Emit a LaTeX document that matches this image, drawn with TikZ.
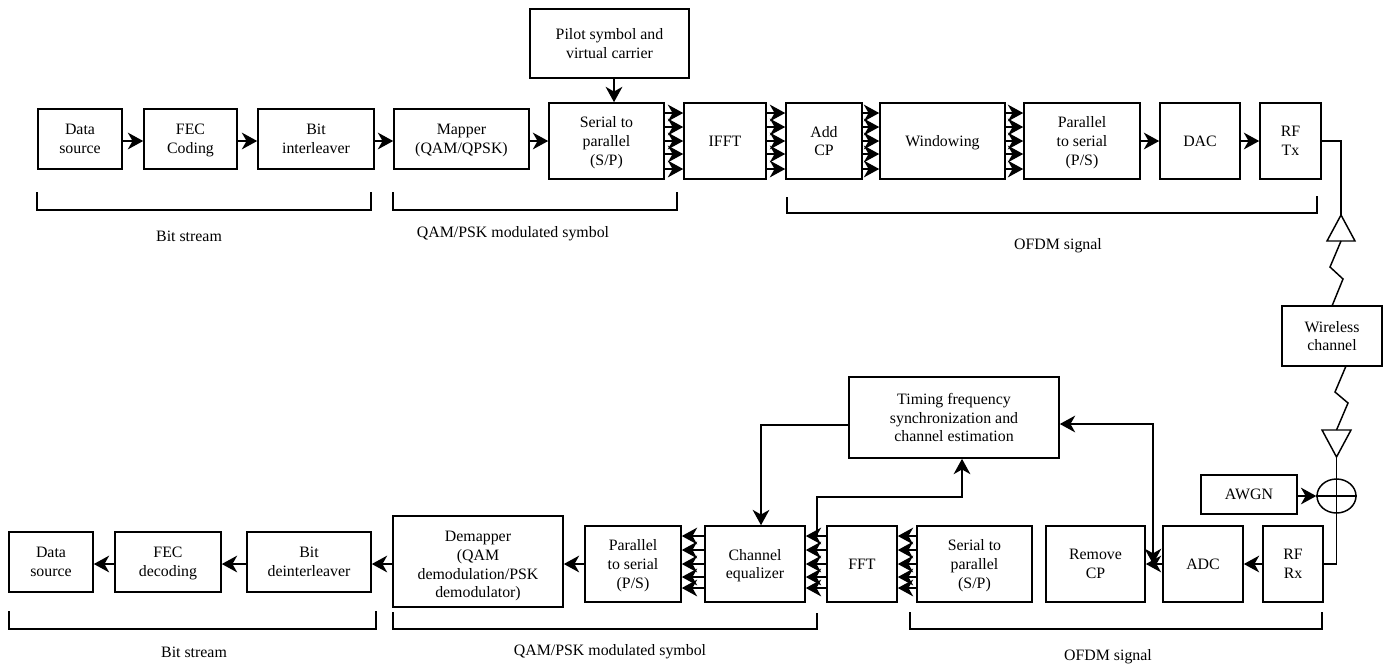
\documentclass[tikz,border=0pt]{standalone}
\usepackage{fontspec}
\setmainfont{Liberation Serif}
\usetikzlibrary{arrows.meta,shapes.geometric}

\begin{document}
\begin{tikzpicture}[x=0.75pt,y=-0.75pt,
    textfont/.style={font=\fontsize{11.9}{14.1}\selectfont},
    block/.style={draw,line width=1.2pt,inner sep=0pt,align=center,textfont,text depth=0pt},
    sz/.style 2 args={minimum width=#1*0.75pt,minimum height=#2*0.75pt},
    flow/.style={line width=1.5pt,-{Stealth[length=11.5pt,width=12.5pt,inset=3.5pt]}},
    wire/.style={line width=1.1pt},
    bracket/.style={line width=1pt},
    caption/.style={textfont,inner sep=0pt}]
  \useasboundingbox (0,0) rectangle (1391,665);

  \node (dsrc) at (80,139) [block,sz={84}{60}] {Data\\source};
  \node (fec) at (190.5,139) [block,sz={93}{60}] {FEC\\Coding};
  \node (intl) at (316,139) [block,sz={116}{60}] {Bit\\interleaver};
  \node (mapper) at (461.5,139) [block,sz={135}{60}] {Mapper\\(QAM/QPSK)};
  \node (sptx) at (606.5,141) [block,sz={115}{76}] {Serial to\\parallel\\(S/P)};
  \node (pilot) at (609.5,43.5) [block,sz={159}{69}] {Pilot symbol and\\virtual carrier};
  \node (ifft) at (725,141) [block,sz={82}{76}] {IFFT};
  \node (addcp) at (824,141) [block,sz={76}{76}] {Add\\CP};
  \node (wind) at (942.5,141) [block,sz={125}{76}] {Windowing};
  \node (pstx) at (1082,141) [block,sz={116}{76}] {Parallel\\to serial\\(P/S)};
  \node (dac) at (1200,141) [block,sz={80}{76}] {DAC};
  \node (rftx) at (1290.5,141) [block,sz={61}{76}] {RF\\Tx};

  \node (wless) at (1332,336) [block,sz={100}{60}] {Wireless\\channel};
  \node (awgn) at (1249,494.5) [block,sz={96}{39}] {AWGN};
  \node (sum) at (1336.5,496) [draw,wire,ellipse,inner sep=0pt,minimum width=39*0.75pt,minimum height=34*0.75pt] {};

  \node (timing) at (954,417.5) [block,sz={210}{81}] {Timing frequency\\synchronization and\\channel estimation};
  \node (rfrx) at (1293,564) [block,sz={60}{76}] {RF\\Rx};
  \node (adc) at (1203,564) [block,sz={80}{76}] {ADC};
  \node (rmcp) at (1095.5,564) [block,sz={99}{76}] {Remove\\CP};
  \node (sprx) at (974.5,564) [block,sz={115}{76}] {Serial to\\parallel\\(S/P)};
  \node (fft) at (862,564) [block,sz={70}{76}] {FFT};
  \node (equal) at (755,564) [block,sz={100}{76}] {Channel\\equalizer};
  \node (psrx) at (633,564) [block,sz={96}{76}] {Parallel\\to serial\\(P/S)};
  \node (demap) at (478,561.5) [block,sz={170}{91}] {\rule{0pt}{12.3pt}Demapper\\(QAM\\demodulation/PSK\\demodulator)};
  \node (dintl) at (309,562) [block,sz={124}{60}] {Bit\\deinterleaver};
  \node (fecd) at (168,562) [block,sz={106}{60}] {FEC\\decoding};
  \node (dsink) at (51,562) [block,sz={84}{60}] {Data\\source};

  \foreach \a/\b in {dsrc/fec,fec/intl,intl/mapper,mapper/sptx,pstx/dac,dac/rftx}
    \draw[flow] (\a.east |- sptx.west) -- (\b.west |- sptx.west);
  \foreach \a/\b in {sptx/ifft,ifft/addcp,addcp/wind,wind/pstx}
    \foreach \dy in {28,14,0,-13,-28}
      \draw[flow] ([yshift=\dy*0.75pt]\a.east) -- ([yshift=\dy*0.75pt]\b.west);
  \coordinate (pilotx) at (614,60);
  \draw[flow] (pilot.south -| pilotx) -- (sptx.north -| pilotx);

  \foreach \a/\b in {rfrx/adc,adc/rmcp,psrx/demap,demap/dintl,dintl/fecd,fecd/dsink}
    \draw[flow] (\a.west |- rfrx.west) -- (\b.east |- rfrx.west);
  \foreach \a/\b in {sprx/fft,fft/equal,equal/psrx}
    \foreach \dy in {28,14,0,-13,-24}
      \draw[flow] ([yshift=\dy*0.75pt]\a.west) -- ([yshift=\dy*0.75pt]\b.east);

  \coordinate (txtip) at (1341,215);
  \coordinate (txleft) at (1327,241);
  \coordinate (txright) at (1355,241);
  \coordinate (txbase) at (1341,241);
  \coordinate (txzz1) at (1330,267);
  \coordinate (txzz2) at (1343,279);
  \coordinate (txend) at (1332,306);
  \draw[wire] (rftx.east) -| (txtip);
  \draw[wire] (txtip) -- (txright) -- (txleft) -- cycle;
  \draw[wire] (txbase) -- (txzz1) -- (txzz2) -- (txend);

  \coordinate (rxstart) at (1346,366);
  \coordinate (rxzz1) at (1335,392);
  \coordinate (rxzz2) at (1348,403);
  \coordinate (rxbase) at (1336.5,430);
  \coordinate (rxleft) at (1322,430);
  \coordinate (rxright) at (1351,430);
  \coordinate (rxtip) at (1336.5,457);
  \draw[wire] (rxstart) -- (rxzz1) -- (rxzz2) -- (rxbase);
  \draw[wire] (rxleft) -- (rxright) -- (rxtip) -- cycle;
  \draw[wire] (rxtip) |- (rfrx.east);
  \draw[wire] (sum.west) -- (sum.east);
  \draw[flow] (awgn.east |- sum.west) -- (sum.west);

  \coordinate (tjoint) at (1153,424);
  \coordinate (tout) at (761,425);
  \coordinate (tapst) at (817,536);
  \coordinate (tapup) at (817,497);
  \coordinate (tapin) at (962,497);
  \draw[line width=1.5pt,{Stealth[length=11.5pt,width=12.5pt,inset=3.5pt]}-{Stealth[length=11.5pt,width=12.5pt,inset=3.5pt]}] (timing.east |- tjoint) -- (tjoint) -- (tjoint |- rmcp.east);
  \draw[flow] (timing.west |- tout) -- (tout) -- (tout |- equal.north);
  \draw[flow] (tapst) -- (tapup) -- (tapin) -- (tapin |- timing.south);

  \draw[bracket] (37,192) |- (371,210) -- (371,192);
  \draw[bracket] (393,192) |- (677,210) -- (677,192);
  \draw[bracket] (787,197) |- (1317,213) -- (1317,196);
  \draw[bracket] (9,611) |- (376,629) -- (376,611);
  \draw[bracket] (393,612) |- (817,629) -- (817,613);
  \draw[bracket] (910,612) |- (1322,629) -- (1322,612);

  \node (bittx) at (189,236) [caption] {Bit stream};
  \node (qamtx) at (513,234) [caption] {QAM/PSK modulated symbol};
  \node (ofdmtx) at (1058,246) [caption] {OFDM signal};
  \node (bitrx) at (194,652) [caption] {Bit stream};
  \node (qamrx) at (610,652) [caption] {QAM/PSK modulated symbol};
  \node (ofdmrx) at (1108,657) [caption] {OFDM signal};
\end{tikzpicture}
\end{document}
